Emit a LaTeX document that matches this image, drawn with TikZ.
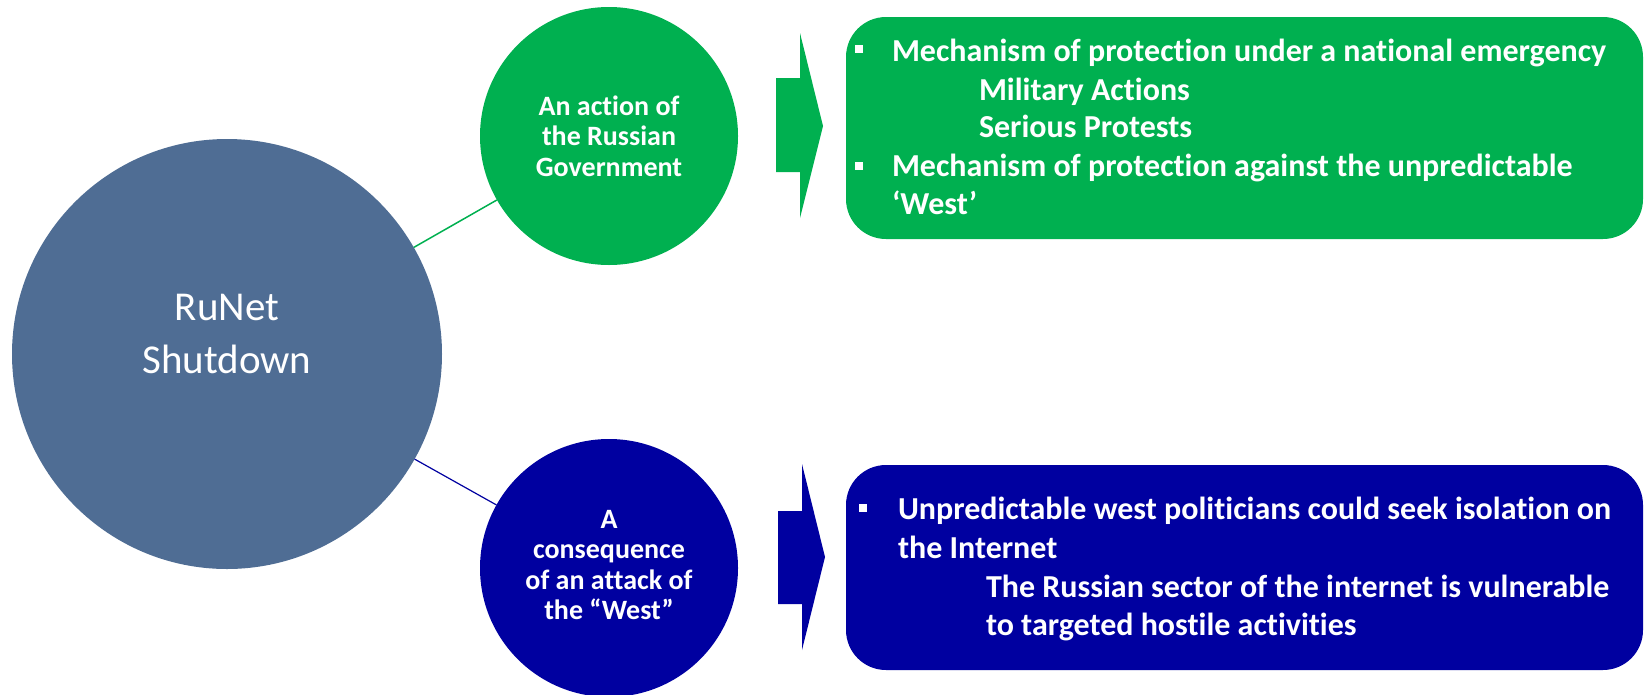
\documentclass[tikz,border=0pt]{standalone}
\usepackage{fontspec}
\setmainfont{Carlito}[RawFeature={-liga}]
\definecolor{hubblue}{HTML}{4F6D94}
\definecolor{govgreen}{HTML}{00B050}
\definecolor{westblue}{HTML}{0000A0}
\begin{document}
\begin{tikzpicture}[x=1pt,y=-1pt,
  every node/.style={inner sep=0pt, outer sep=0pt},
  hub/.style={circle, fill=hubblue, minimum size=430pt},
  hubtext/.style={text=white, align=center, font=\fontsize{41}{52.5}\selectfont},
  topic/.style={circle, minimum size=258pt, text=white, align=center,
    font=\fontsize{28}{30.5}\selectfont\bfseries},
  panel/.style={rounded corners=40pt, minimum width=797pt},
  txtline/.style={anchor=base west, text=white, font=\fontsize{32}{38}\selectfont\bfseries},
  sq/.style={fill=white, minimum size=8pt},
  link/.style={line width=1.5pt},
]
\useasboundingbox (0,0) rectangle (1644,694);

% central topic
\node[hub] (hub) at (227,354) {};
\node[hubtext] (hubtext) at (227,334) {RuNet\\Shutdown};

% two interpretations
\node[topic, fill=govgreen] (gov) at (609,136) {An action of\\the Russian\\Government};
\node[topic, fill=westblue] (west) at (609,568) {};
\node[topic] (westtext) at (609,565) {A\\consequence\\of an attack of\\the “West”};

\draw[link, govgreen] (hub) -- (gov);
\draw[link, westblue, line width=1.2pt] (hub) -- (west);

% block arrows
\fill[govgreen] (776,78) -- (800,78) -- (800,33) -- (823,126) -- (800,218)
  -- (800,172) -- (776,172) -- cycle;
\fill[westblue] (778,511) -- (802,511) -- (802,464) -- (825,557) -- (802,650)
  -- (802,604) -- (778,604) -- cycle;

% explanation panels
\node[panel, fill=govgreen, minimum height=222pt] (govpanel) at (1244.5,128) {};
\node[panel, fill=westblue, minimum height=205pt] (westpanel) at (1244.5,567.5) {};

\node[sq] (gb1) at (859,49) {};
\node[txtline] (g1) at (892,61.7) {Mechanism of protection under a national emergency};
\node[txtline] (g2) at (979,100.7) {Military Actions};
\node[txtline] (g3) at (979,137.5) {Serious Protests};
\node[sq] (gb2) at (859,166) {};
\node[txtline] (g4) at (892,176.5) {Mechanism of protection against the unpredictable};
\node[txtline] (g5) at (892,214) {‘West’};

\node[sq] (wb1) at (863,508) {};
\node[txtline] (w1) at (898,519) {Unpredictable west politicians could seek isolation on};
\node[txtline] (w2) at (898,558) {the Internet};
\node[txtline] (w3) at (986,597) {The Russian sector of the internet is vulnerable};
\node[txtline] (w4) at (986,635) {to targeted hostile activities};
\end{tikzpicture}
\end{document}
